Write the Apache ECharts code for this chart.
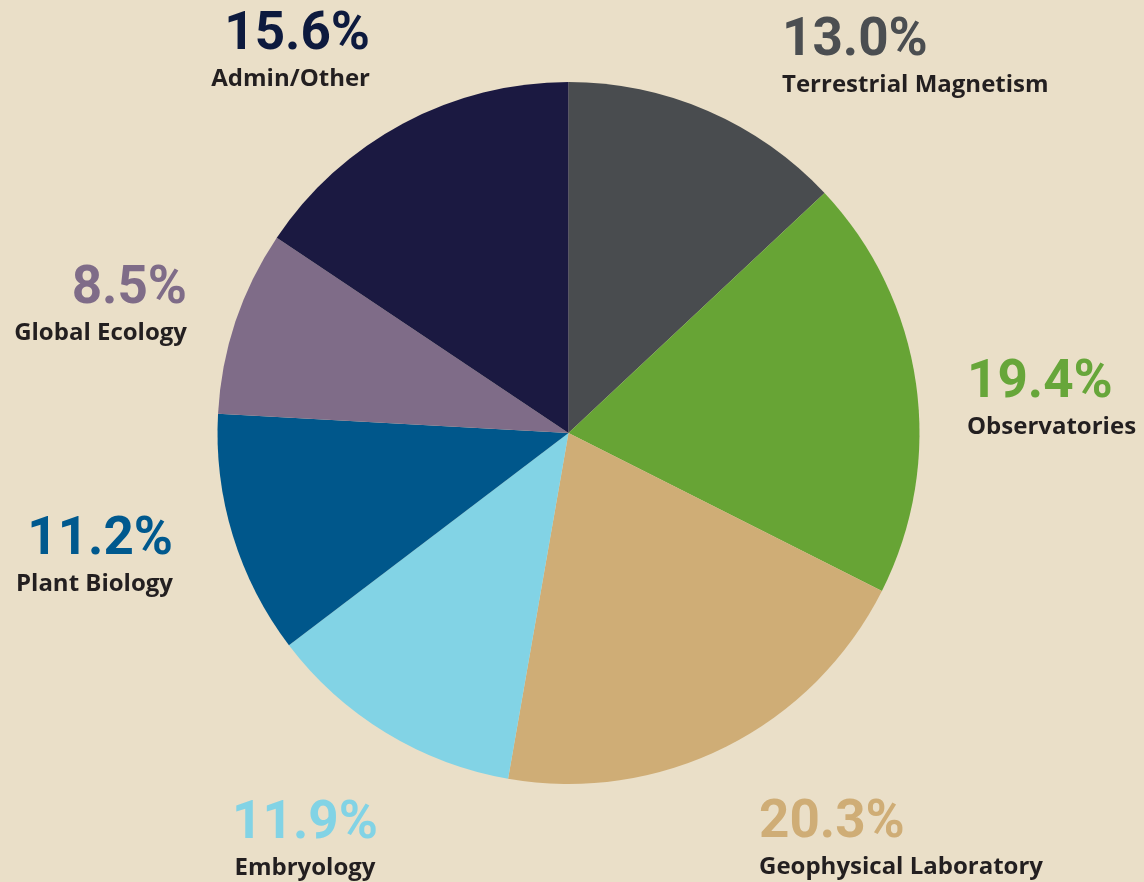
<!DOCTYPE html>
<html>
<head>
<meta charset="utf-8">
<script src="https://cdn.jsdelivr.net/npm/echarts@6/dist/echarts.min.js"></script>
<style>
  html, body { margin: 0; padding: 0; background: #EADFC8; }
  #chart { width: 1144px; height: 882px; }
</style>
</head>
<body>
<div id="chart"></div>
<script>
// Budget share by department (percent), clockwise from 12 o'clock
const departments = ['Terrestrial Magnetism', 'Observatories', 'Geophysical Laboratory', 'Embryology', 'Plant Biology', 'Global Ecology', 'Admin/Other'];
const shares = [13.0, 19.4, 20.3, 11.9, 11.2, 8.5, 15.6];

const sliceColors = ['#494C4F', '#67A435', '#CFAD76', '#82D3E5', '#00578B', '#7F6C88', '#1B1941'];
const percentColors = ['#4B4E51', '#67A63A', '#CFAD76', '#82D3E5', '#00598E', '#7F6C88', '#0D1A3E'];

// Label anchors: [x, y of block middle, horizontal alignment]
const labelAnchors = [
  [782, 62, 'left'],
  [967, 404, 'left'],
  [759, 844, 'left'],
  [305, 845, 'center'],
  [173, 561, 'right'],
  [187, 310, 'right'],
  [370, 56, 'right']
];

const chart = echarts.init(document.getElementById('chart'), null, { renderer: 'canvas' });

const rich = {};
percentColors.forEach((c, i) => {
  rich['p' + i] = {
    fontFamily: 'Roboto', fontWeight: 'bold', fontSize: 53, color: c, lineHeight: 46
  };
});
rich.name = {
  fontFamily: 'Open Sans', fontWeight: 'bold', fontSize: 24, color: '#231F20', lineHeight: 40
};

chart.setOption({
  backgroundColor: '#EADFC8',
  animation: false,
  series: [{
    type: 'pie',
    center: [568.5, 433],
    radius: [0, 351],
    startAngle: 90,
    clockwise: true,
    avoidLabelOverlap: false,
    itemStyle: { borderWidth: 0 },
    emphasis: { disabled: true },
    labelLine: { show: false },
    label: {
      show: true,
      position: 'outside',
      formatter: p => '{p' + p.dataIndex + '|' + p.value.toFixed(1) + '%}\n{name|' + p.name + '}',
      rich: rich
    },
    labelLayout: p => {
      const a = labelAnchors[p.dataIndex];
      return { x: a[0], y: a[1], align: a[2], verticalAlign: 'middle', hideOverlap: false };
    },
    data: departments.map((d, i) => ({
      name: d,
      value: shares[i],
      itemStyle: { color: sliceColors[i] },
      label: { align: labelAnchors[i][2] }
    }))
  }]
});
</script>
</body>
</html>
